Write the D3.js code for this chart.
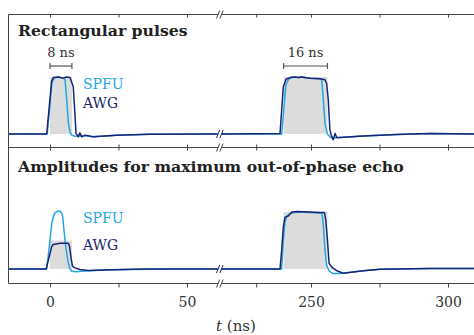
<!DOCTYPE html>
<html>
<head>
<meta charset="utf-8">
<script src="https://cdn.jsdelivr.net/npm/d3@7"></script>
<style>
  body { margin: 0; background: #fff; }
  svg { display: block; font-family: "DejaVu Serif", serif; }
</style>
</head>
<body>
<div id="chart"></div>
<script>
// --- data (t in ns, amplitude normalised) ---
const panelTitles = ["Rectangular pulses", "Amplitudes for maximum out-of-phase echo"];
const legendLabels = ["SPFU", "AWG"];
const spanLabels = ["8 ns", "16 ns"];
const majorTicksLeft = [0, 50];
const minorTicksLeft = [25];
const majorTicksRight = [250, 300];
const minorTicksRight = [230, 275];
const pulseWindows = [[0, 8], [240, 256]];
const pulseHeightsTop = [1, 1];
const pulseHeightsBottom = [0.5, 1];

const awgTop = [[-15.5,0],[-8,0],[-1.2,0],[0.6,0.93],[1.2,0.99],[3,1.0],[4.8,0.98],[6,1.0],[7.3,0.99],[8.5,0.83],[9.5,0.01],[10.3,-0.05],[10.9,0.02],[11.6,-0.05],[12.8,-0.02],[15.7,-0.05],[24.3,-0.02],[36.5,-0.005],[61.2,0],
  [217.2,0],[238.7,0.01],[239.3,0.42],[239.9,0.83],[240.9,0.96],[242.3,0.99],[243.9,1.0],[245.4,0.99],[246.6,1.0],[249.6,0.98],[253.3,0.97],[255.1,0.95],[255.7,0.89],[256.3,0.6],[256.9,0.07],[257.6,-0.05],[258.1,-0.1],[258.8,0.01],[259.4,-0.06],[260.6,-0.06],[269.1,-0.035],[281.3,-0.01],[293.4,0.01],[310,0]];
const spfuTop = [[-15.5,0],[-8,0],[-1.0,0],[0.7,0.9],[1.5,0.98],[3,1.0],[4.9,0.98],[5.5,0.95],[6.1,0.6],[6.7,0.19],[7.3,0.04],[7.9,-0.02],[9,-0.04],[12.8,-0.03],[15.7,-0.05],[24.3,-0.02],[36.5,-0.005],[61.2,0],
  [217.2,0],[239.3,0],[240.2,0.5],[240.8,0.85],[241.8,0.96],[243,0.99],[243.9,1.0],[245.4,0.99],[246.6,1.0],[249.6,0.98],[253.3,0.97],[253.9,0.95],[254.5,0.6],[255.1,0.19],[255.9,0.01],[256.9,-0.05],[258,-0.07],[260.6,-0.06],[269.1,-0.035],[281.3,-0.01],[293.4,0.01],[310,0]];
const awgBottom = [[-15.5,0],[-8,0],[-1.4,0],[0.6,0.39],[1.1,0.43],[2.4,0.44],[3.6,0.45],[6.7,0.45],[7.1,0.4],[7.7,0.19],[8.2,0.05],[9.1,0.02],[10.9,-0.01],[14,-0.025],[22,-0.015],[35,0],[61.2,0],
  [217.2,0],[238.7,0],[239.3,0.33],[239.9,0.74],[240.5,0.91],[241.7,0.93],[243,1.0],[244.8,1.01],[249.6,1.0],[253.3,0.99],[254.9,0.99],[255.4,0.86],[256,0.51],[256.6,0.1],[257.6,0.03],[259.4,-0.03],[261.8,-0.075],[269.1,-0.03],[275.2,-0.005],[293.4,0.01],[310,0.01]];
const spfuBottom = [[-15.5,0],[-8,0],[-1.2,0],[-0.6,0.25],[0,0.51],[0.7,0.82],[1.5,0.96],[2.2,1.0],[3.3,1.02],[4.0,1.0],[4.6,0.93],[5.1,0.68],[5.8,0.37],[6.6,0.12],[7.3,0],[8.0,-0.04],[9.5,-0.05],[12.8,-0.035],[18.2,-0.02],[29,-0.01],[45,0],[61.2,0],
  [217.2,0],[239.3,0],[239.9,0.5],[240.5,0.82],[241.2,0.93],[242.7,0.98],[244.8,1.0],[249.6,0.99],[254,0.98],[254.5,0.77],[255.1,0.33],[255.7,0.07],[256.6,-0.035],[258,-0.08],[260.6,-0.08],[269.1,-0.03],[275.2,-0.005],[293.4,0.01],[310,0.01]];

// --- layout ---
const width = 474, height = 335;
const cyan = "#22a6df", navy = "#1b2474", frame = "#444";
const yTopBorder = 14.5, yMid = 147.5, yBottomBorder = 283.5, xLeftBorder = 8.5;
const breakX = 219.8;

const xL = d3.scaleLinear().domain([0, 50]).range([50, 187]);
const xR = d3.scaleLinear().domain([250, 300]).range([311, 448]);
const xAt = t => t < 150 ? xL(t) : xR(t);
const yTop = d3.scaleLinear().domain([0, 1]).range([134, 77]);
const yBot = d3.scaleLinear().domain([0, 1]).range([269, 212]);

const svg = d3.select("#chart").append("svg")
  .attr("width", width).attr("height", height);

svg.append("defs").append("clipPath").attr("id", "plotClip")
  .append("rect").attr("x", xLeftBorder).attr("y", 0).attr("width", width).attr("height", height);

const plot = svg.append("g").attr("clip-path", "url(#plotClip)");

function drawPanel(y, heights, awg, spfu) {
  // shaded pulse windows
  pulseWindows.forEach((w, i) => {
    plot.append("rect")
      .attr("x", xAt(w[0])).attr("width", xAt(w[1]) - xAt(w[0]))
      .attr("y", y(heights[i])).attr("height", y(0) - y(heights[i]))
      .attr("fill", "#dcdcdc");
  });
  const line = d3.line().x(d => xAt(d[0])).y(d => y(d[1]));
  [[spfu, cyan], [awg, navy]].forEach(([s, c]) => {
    [s.filter(d => d[0] < 150), s.filter(d => d[0] >= 150)].forEach(seg => {
      plot.append("path").datum(seg)
        .attr("fill", "none").attr("stroke", c).attr("stroke-width", 1.5)
        .attr("stroke-linejoin", "round").attr("d", line);
    });
  });
}
drawPanel(yTop, pulseHeightsTop, awgTop, spfuTop);
drawPanel(yBot, pulseHeightsBottom, awgBottom, spfuBottom);

// frame lines
[yTopBorder, yMid, yBottomBorder].forEach(yy => {
  svg.append("line").attr("x1", xLeftBorder).attr("x2", width).attr("y1", yy).attr("y2", yy)
    .attr("stroke", frame).attr("stroke-width", 1);
});
svg.append("line").attr("x1", xLeftBorder).attr("x2", xLeftBorder).attr("y1", yTopBorder).attr("y2", yBottomBorder)
  .attr("stroke", frame).attr("stroke-width", 1);

// ticks
function tickRow(yy, dir, labels) {
  [[xL, majorTicksLeft.concat(minorTicksLeft)], [xR, majorTicksRight.concat(minorTicksRight)]].forEach(([sc, vals]) => {
    const ax = (dir > 0 ? d3.axisBottom(sc) : d3.axisTop(sc))
      .tickValues(vals).tickSize(labels ? 4 : 3).tickPadding(10)
      .tickFormat(d => labels && (majorTicksLeft.includes(d) || majorTicksRight.includes(d)) ? d : "");
    const g = svg.append("g").attr("transform", `translate(0,${yy})`).call(ax);
    g.select(".domain").remove();
    g.selectAll("line").attr("stroke", frame);
    g.selectAll("text").attr("font-family", "DejaVu Serif").attr("font-size", 14).attr("fill", "#333");
  });
}
tickRow(yTopBorder, 1, false);
tickRow(yMid, -1, false);
tickRow(yMid, 1, false);
tickRow(yBottomBorder, 1, true);

// axis break marks
function breakMark(yy, stroke) {
  svg.append("rect").attr("x", breakX - 1.6).attr("y", yy - 2).attr("width", 3.2).attr("height", 4).attr("fill", "#fff");
  [-1.7, 1.7].forEach(dx => {
    svg.append("line")
      .attr("x1", breakX + dx - 1.6).attr("y1", yy + 4)
      .attr("x2", breakX + dx + 1.6).attr("y2", yy - 4)
      .attr("stroke", stroke).attr("stroke-width", 1);
  });
}
[yTopBorder, yMid, yBottomBorder].forEach(yy => breakMark(yy, frame));
breakMark(yTop(0), navy);
breakMark(yBot(0), navy);

// panel titles
[[panelTitles[0], 36], [panelTitles[1], 172]].forEach(([t, yy]) => {
  svg.append("text").attr("x", 18).attr("y", yy)
    .attr("font-size", 15.7).attr("font-weight", "bold").attr("fill", "#222").text(t);
});

// pulse length brackets
pulseWindows.forEach((w, i) => {
  const x0 = xAt(w[0]), x1 = xAt(w[1]), yy = 66;
  const g = svg.append("g").attr("stroke", "#555").attr("stroke-width", 1.2);
  g.append("line").attr("x1", x0).attr("x2", x1).attr("y1", yy).attr("y2", yy);
  g.append("line").attr("x1", x0).attr("x2", x0).attr("y1", yy - 3).attr("y2", yy + 3);
  g.append("line").attr("x1", x1).attr("x2", x1).attr("y1", yy - 3).attr("y2", yy + 3);
  svg.append("text").attr("x", (x0 + x1) / 2).attr("y", 57).attr("text-anchor", "middle")
    .attr("font-size", 13).attr("fill", "#333").text(spanLabels[i]);
});

// legends
[[89, 108], [223, 250]].forEach(([ys, ya]) => {
  svg.append("text").attr("x", 83).attr("y", ys).attr("font-size", 14).attr("fill", cyan).text(legendLabels[0]);
  svg.append("text").attr("x", 83).attr("y", ya).attr("font-size", 14).attr("fill", navy).text(legendLabels[1]);
});

// x label
const xl = svg.append("text").attr("x", 236).attr("y", 331).attr("text-anchor", "middle")
  .attr("font-size", 15).attr("fill", "#333");
xl.append("tspan").attr("font-style", "italic").text("t");
xl.append("tspan").text(" (ns)");
</script>
</body>
</html>
